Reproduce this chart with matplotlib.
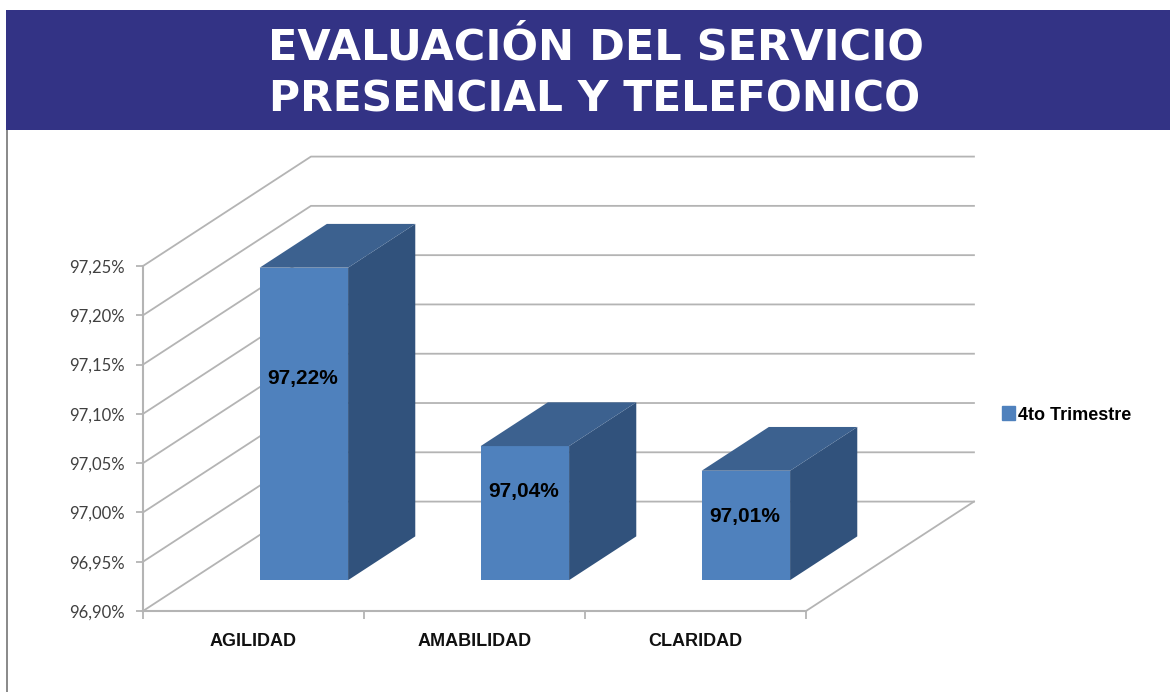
import matplotlib
matplotlib.use('Agg')
import matplotlib.pyplot as plt
from matplotlib.patches import Polygon, Patch, Rectangle

# Data
categories = ['AGILIDAD', 'AMABILIDAD', 'CLARIDAD']
values = [97.217, 97.036, 97.011]
y_ticks = [96.90, 96.95, 97.00, 97.05, 97.10, 97.15, 97.20, 97.25]
series_name = '4to Trimestre'
title_lines = ['EVALUACIÓN DEL SERVICIO', 'PRESENCIAL Y TELEFONICO']

# Style
W, H = 1170, 692
grid_color = '#B4B4B4'
front_color = '#4F81BD'
side_color = '#31527C'
top_color = '#3C618F'
bold_font = 'Liberation Sans'

# depth of the fake 3D floor, in axis units
depth_x = 0.76
depth_y = 0.111
bar_width = 0.40
bar_front = 0.30
bar_back = 0.70
bar_drop = 0.002
label_frac = [0.645, 0.66, 0.585]

fig = plt.figure(figsize=(W / 100, H / 100), dpi=100)
fig.patch.set_facecolor('white')

# Banner and left border
fig.add_artist(Rectangle((6 / W, 1 - 130 / H), (W - 6) / W, 120 / H, transform=fig.transFigure,
                         facecolor='#333385', edgecolor='none'))
fig.add_artist(Rectangle((6 / W, 0), 1.5 / W, 1 - 130 / H, transform=fig.transFigure,
                         facecolor='#8C8C8C', edgecolor='none'))
fig.text(596 / W, 1 - 48 / H, title_lines[0], color='white', fontsize=31, fontweight='bold',
         family='DejaVu Sans', ha='center', va='center')
fig.text(595 / W, 1 - 100 / H, title_lines[1], color='white', fontsize=30.5, fontweight='bold',
         family='DejaVu Sans', ha='center', va='center')

ax = fig.add_axes([143 / W, 1 - 611 / H, (806 - 143) / W, (611 - 266) / H])
ax.patch.set_alpha(0)
ax.set_xlim(0, 3)
ax.set_ylim(96.90, 97.25)
base = y_ticks[0]
n = len(categories)

# Side and back wall grid lines
for v in y_ticks:
    ax.plot([0, depth_x, n + depth_x], [v, v + depth_y, v + depth_y], color=grid_color,
            lw=1.3, clip_on=False, zorder=1)
ax.plot([n, n + depth_x], [base, base + depth_y], color=grid_color, lw=1.3, clip_on=False, zorder=1)

# Bars: front face, side face, top face
for i, val in enumerate(values):
    x0 = i + 0.5 - bar_width / 2 + bar_front * depth_x
    x1 = x0 + bar_width
    y0 = base + bar_front * depth_y - bar_drop
    y1 = val + bar_front * depth_y - bar_drop
    dx = (bar_back - bar_front) * depth_x
    dy = (bar_back - bar_front) * depth_y
    ax.bar(x0, y1 - y0, width=bar_width, bottom=y0, align='edge', color=front_color,
           clip_on=False, zorder=3)
    ax.add_patch(Polygon([(x1, y0), (x1 + dx, y0 + dy), (x1 + dx, y1 + dy), (x1, y1)],
                         facecolor=side_color, edgecolor='none', clip_on=False, zorder=3))
    ax.add_patch(Polygon([(x0, y1), (x0 + dx, y1 + dy), (x1 + dx, y1 + dy), (x1, y1)],
                         facecolor=top_color, edgecolor='none', clip_on=False, zorder=3))
    ax.text((x0 + x1) / 2 - 0.006, y0 + label_frac[i] * (y1 - y0), f'{val:.2f}%'.replace('.', ','),
            ha='center', va='center', fontsize=15, fontweight='bold', family=bold_font,
            color='black', zorder=4)

# Axes
for s in ['top', 'right']:
    ax.spines[s].set_visible(False)
for s in ['left', 'bottom']:
    ax.spines[s].set_color(grid_color)
    ax.spines[s].set_linewidth(1.5)
ax.set_yticks(y_ticks)
ax.set_yticklabels([f'{v:.2f}%'.replace('.', ',') for v in y_ticks], fontsize=12,
                   color='#404040', family='Lato')
ax.tick_params(axis='y', length=5, width=1.3, color=grid_color, pad=8)
ax.set_xticks(range(n + 1))
ax.set_xticklabels([])
ax.tick_params(axis='x', which='major', length=6, width=1.3, color=grid_color)
ax.set_xticks([i + 0.5 for i in range(n)], minor=True)
ax.set_xticklabels(categories, minor=True, fontsize=13, fontweight='bold', family=bold_font,
                   color='#111111')
ax.tick_params(axis='x', which='minor', length=0, pad=15.5)

# Legend
fig.legend(handles=[Patch(color=front_color, label=series_name)], loc='center left',
           bbox_to_anchor=(986 / W, 1 - 415 / H), frameon=False, handlelength=0.7,
           handleheight=0.8, handletextpad=0.2,
           prop={'family': bold_font, 'weight': 'bold', 'size': 13})

fig.savefig('out.png', dpi=100)
